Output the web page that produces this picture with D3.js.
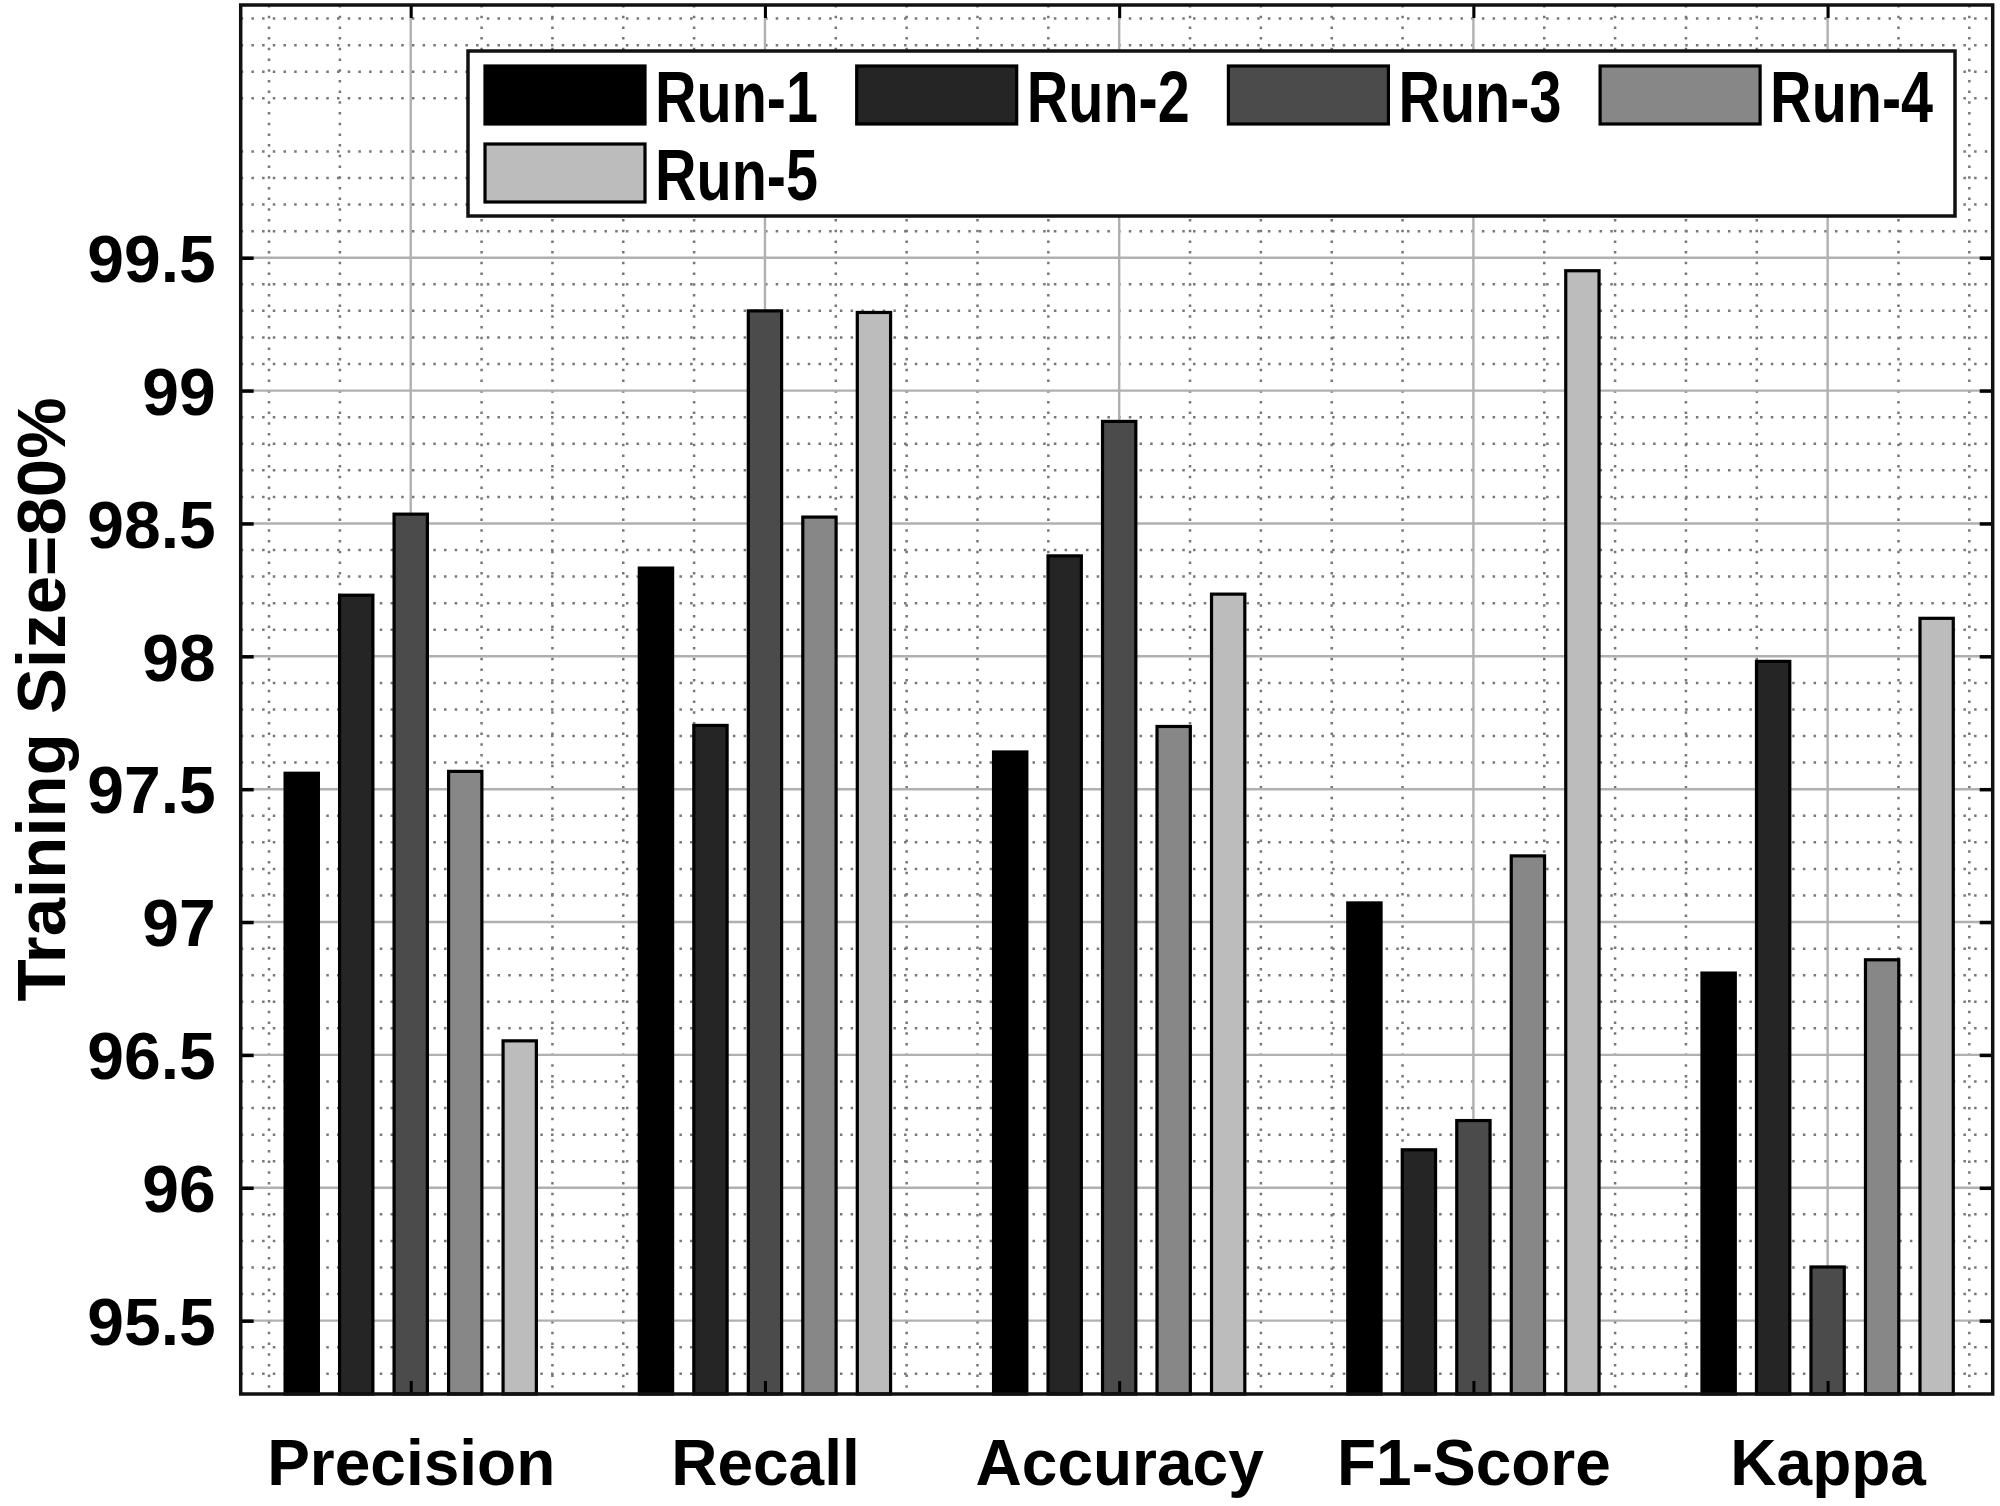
<!DOCTYPE html>
<html>
<head>
<meta charset="utf-8">
<script src="https://cdn.jsdelivr.net/npm/d3@7"></script>
<style>
  html, body { margin: 0; padding: 0; background: #ffffff; }
  svg { display: block; }
  text { font-family: "Liberation Sans", Arial, Helvetica, sans-serif; font-weight: bold; fill: #000; }
</style>
</head>
<body>
<svg id="chart" width="2000" height="1506"></svg>
<script>
// ---- data ----
const categories = ["Precision", "Recall", "Accuracy", "F1-Score", "Kappa"];
const seriesNames = ["Run-1", "Run-2", "Run-3", "Run-4", "Run-5"];
const run1 = [97.56, 98.332, 97.64, 97.072, 96.808];
const run2 = [98.23, 97.74, 98.378, 96.143, 97.981];
const run3 = [98.535, 99.30, 98.884, 96.253, 95.702];
const run4 = [97.567, 98.524, 97.736, 97.249, 96.858];
const run5 = [96.553, 99.294, 98.234, 99.451, 98.143];
const yTickValues = [95.5, 96, 96.5, 97, 97.5, 98, 98.5, 99, 99.5];
const yTickLabels = ["95.5", "96", "96.5", "97", "97.5", "98", "98.5", "99", "99.5"];
const yLabel = "Training Size=80%";

// ---- styles / layout ----
const series = [run1, run2, run3, run4, run5];
const colors = ["#000000", "#252525", "#4b4b4b", "#878787", "#bcbcbc"];
const L = 240.7, R = 1992.7, T = 5, B = 1394;

const svg = d3.select("#chart");
svg.append("rect").attr("width", 2000).attr("height", 1506).attr("fill", "#fff");

const x = d3.scaleLinear().domain([0.52, 5.466]).range([L, R]);
const y = d3.scaleLinear().domain([95.224, 100.451]).range([B, T]);

const g = svg.append("g");

// minor grid
const yMinor = d3.range(95.3, 100.45, 0.1).map(v => Math.round(v * 10) / 10)
  .filter(v => Math.abs(v * 2 - Math.round(v * 2)) > 1e-6);
const xMinor = d3.range(0.6, 5.45, 0.2).map(v => Math.round(v * 10) / 10)
  .filter(v => Math.abs(v - Math.round(v)) > 1e-6);

g.selectAll(".ymin").data(yMinor).join("line")
  .attr("x1", L).attr("x2", R).attr("y1", d => y(d)).attr("y2", d => y(d))
  .attr("stroke", "#777").attr("stroke-width", 2.5).attr("stroke-dasharray", "2.5,8.2");
g.selectAll(".xmin").data(xMinor).join("line")
  .attr("y1", T).attr("y2", B).attr("x1", d => x(d)).attr("x2", d => x(d))
  .attr("stroke", "#777").attr("stroke-width", 2.5).attr("stroke-dasharray", "2.5,8.2");

// major grid
g.selectAll(".ymaj").data(yTickValues).join("line")
  .attr("x1", L).attr("x2", R).attr("y1", d => y(d)).attr("y2", d => y(d))
  .attr("stroke", "#b0b0b0").attr("stroke-width", 2.4);
g.selectAll(".xmaj").data([1, 2, 3, 4, 5]).join("line")
  .attr("y1", T).attr("y2", B).attr("x1", d => x(d)).attr("x2", d => x(d))
  .attr("stroke", "#b0b0b0").attr("stroke-width", 2.4);

// bars
const groupStep = 0.7692 / 5;
const barW = 0.094;
series.forEach((vals, j) => {
  g.append("g").selectAll("rect").data(vals).join("rect")
    .attr("x", (d, i) => x(i + 1 + (j - 2) * groupStep - barW / 2))
    .attr("width", x(barW) - x(0))
    .attr("y", d => y(d))
    .attr("height", d => B - y(d))
    .attr("fill", colors[j])
    .attr("stroke", "#000").attr("stroke-width", 3.2);
});

// axes (ticks inward)
const axL = svg.append("g").attr("transform", `translate(${L},0)`)
  .call(d3.axisLeft(y).tickValues(yTickValues).tickFormat((d, i) => yTickLabels[i]).tickSize(-13).tickPadding(25));
axL.select(".domain").remove();
axL.selectAll("line").attr("stroke", "#000").attr("stroke-width", 3.5);
axL.selectAll("text").attr("font-size", 66).attr("font-family", null).attr("dy", "0.36em");

const axR = svg.append("g").attr("transform", `translate(${R},0)`)
  .call(d3.axisRight(y).tickValues(yTickValues).tickFormat("").tickSize(-13));
axR.select(".domain").remove();
axR.selectAll("line").attr("stroke", "#000").attr("stroke-width", 3.5);

const axB = svg.append("g").attr("transform", `translate(0,${B})`)
  .call(d3.axisBottom(x).tickValues([1, 2, 3, 4, 5]).tickFormat(d => categories[d - 1]).tickSize(-13));
axB.select(".domain").remove();
axB.selectAll("line").attr("stroke", "#000").attr("stroke-width", 3);
axB.selectAll("text").attr("font-size", 64).attr("font-family", null).attr("y", 91).attr("dy", 0);

const axT = svg.append("g").attr("transform", `translate(0,${T})`)
  .call(d3.axisTop(x).tickValues([1, 2, 3, 4, 5]).tickFormat("").tickSize(-13));
axT.select(".domain").remove();
axT.selectAll("line").attr("stroke", "#000").attr("stroke-width", 3);

// box
svg.append("rect").attr("x", L).attr("y", T).attr("width", R - L).attr("height", B - T)
  .attr("fill", "none").attr("stroke", "#111").attr("stroke-width", 3.5);

// y label
svg.append("text")
  .attr("transform", `translate(65,${(T + B) / 2}) rotate(-90)`)
  .attr("text-anchor", "middle").attr("font-size", 69)
  .text(yLabel);

// legend
const lg = svg.append("g");
lg.append("rect").attr("x", 468).attr("y", 51).attr("width", 1487).attr("height", 165)
  .attr("fill", "#fff").attr("stroke", "#111").attr("stroke-width", 3.5);
const colStep = 371.7, swW = 160, swH = 58;
seriesNames.forEach((name, j) => {
  const col = j % 4, row = Math.floor(j / 4);
  const sx = 485 + col * colStep, sy = 66 + row * 78;
  lg.append("rect").attr("x", sx).attr("y", sy).attr("width", swW).attr("height", swH)
    .attr("fill", colors[j]).attr("stroke", "#000").attr("stroke-width", 3.2);
  lg.append("text").attr("x", sx + swW + 10).attr("y", sy + swH - 2)
    .attr("font-size", 73).attr("textLength", 163).attr("lengthAdjust", "spacingAndGlyphs")
    .text(name);
});
</script>
</body>
</html>
